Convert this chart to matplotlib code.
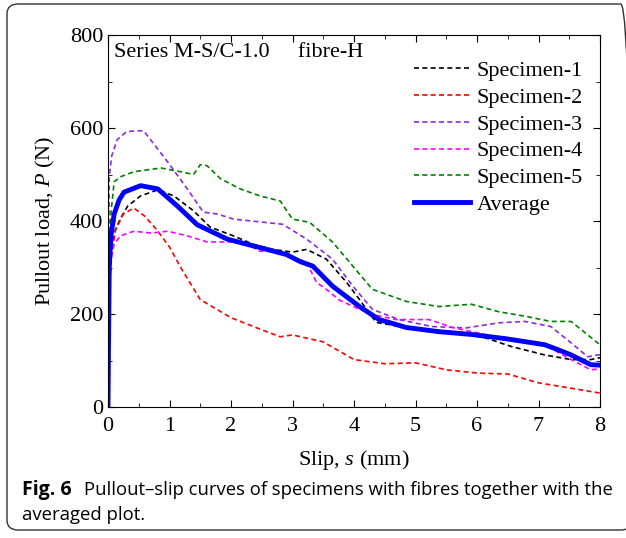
import numpy as np
import matplotlib.pyplot as plt
from matplotlib.patches import FancyBboxPatch
from matplotlib.ticker import MultipleLocator

# ---- data ----
s1 = [0, 0.02, 0.06, 0.12, 0.2, 0.32, 0.53, 0.81, 1.07, 1.39, 1.66, 2.04, 2.36, 2.68, 3.0,
      3.23, 3.55, 3.88, 4.09, 4.36, 4.85, 5.6, 6.13, 6.56, 7.1, 7.53, 7.85, 8.0]
p1 = [0, 280, 340, 380, 405, 432, 454, 467, 454, 422, 387, 368, 350, 339, 333,
      339, 318, 268, 231, 182, 171, 162, 149, 130, 112, 102, 102, 106]

s2 = [0, 0.02, 0.06, 0.12, 0.25, 0.42, 0.6, 0.8, 1.0, 1.2, 1.5, 2.0, 2.5, 2.8, 3.0,
      3.5, 4.0, 4.5, 5.0, 5.5, 6.0, 6.5, 7.0, 7.5, 8.0]
p2 = [0, 250, 330, 380, 415, 428, 410, 380, 344, 296, 231, 192, 166, 151, 155,
      140, 102, 93, 95, 80, 73, 71, 52, 41, 30]

s3 = [0, 0.02, 0.03, 0.06, 0.15, 0.3, 0.45, 0.58, 0.97, 1.29, 1.55, 1.78, 2.04, 2.84,
      3.23, 3.65, 3.98, 4.3, 4.73, 5.27, 5.82, 6.35, 6.78, 7.2, 7.53, 7.8, 7.96, 8.0]
p3 = [0, 495, 506, 540, 575, 592, 594, 594, 527, 469, 419, 415, 404, 393,
      361, 318, 260, 210, 188, 173, 170, 181, 184, 173, 138, 108, 112, 112]

s4 = [0, 0.02, 0.05, 0.1, 0.2, 0.42, 0.7, 0.97, 1.29, 1.61, 1.94, 2.2, 2.47, 2.74, 3.23,
      3.39, 3.55, 3.76, 4.09, 4.3, 4.68, 5.22, 5.6, 6.13, 6.67, 7.1, 7.53, 7.85, 8.0]
p4 = [0, 240, 320, 350, 368, 378, 374, 378, 368, 355, 355, 355, 335, 335, 311,
      268, 253, 230, 210, 199, 188, 188, 171, 156, 141, 134, 102, 80, 82]

s5 = [0, 0.02, 0.05, 0.1, 0.2, 0.42, 0.86, 1.18, 1.39, 1.5, 1.61, 1.83, 2.15, 2.47, 2.8,
      3.0, 3.28, 3.65, 3.98, 4.3, 4.85, 5.38, 5.91, 6.35, 6.79, 7.2, 7.53, 7.96, 8.0]
p5 = [0, 330, 420, 484, 495, 506, 514, 506, 500, 521, 519, 491, 469, 454, 443,
      404, 397, 355, 303, 253, 227, 216, 221, 205, 195, 184, 184, 138, 135]

s_avg = [0, 0.02, 0.05, 0.1, 0.18, 0.26, 0.53, 0.81, 1.13, 1.45, 1.94, 2.26, 2.58, 2.9,
         3.12, 3.33, 3.65, 4.09, 4.41, 4.85, 5.38, 5.91, 6.46, 7.1, 7.32, 7.53, 7.85, 8.0]
p_avg = [0, 300, 370, 415, 445, 462, 476, 469, 432, 392, 361, 350, 339, 328,
         313, 303, 260, 216, 188, 171, 162, 156, 147, 134, 123, 112, 91, 90]

specimens = [(s1, p1, 'black', 'Specimen-1'),
             (s2, p2, 'red', 'Specimen-2'),
             (s3, p3, '#8a2be2', 'Specimen-3'),
             (s4, p4, 'magenta', 'Specimen-4'),
             (s5, p5, 'green', 'Specimen-5')]

plt.rcParams['font.family'] = 'Liberation Serif'
plt.rcParams['mathtext.fontset'] = 'custom'
plt.rcParams['mathtext.it'] = 'Liberation Serif:italic'
plt.rcParams['mathtext.rm'] = 'Liberation Serif'

FS = 16

fig = plt.figure(figsize=(6.26, 5.38), dpi=100)
W, H = 626, 538
ax = fig.add_axes([108 / W, 1 - 407 / H, (600 - 108) / W, (407 - 35) / H])

for s, p, c, lab in specimens:
    ax.plot(s, p, color=c, linestyle=(0, (3, 2)), linewidth=1.2, label=lab)
ax.plot(s_avg, p_avg, color='blue', linewidth=3.5, label='Average')

ax.set_xlim(0, 8)
ax.set_ylim(0, 800)
ax.xaxis.set_major_locator(MultipleLocator(1))
ax.xaxis.set_minor_locator(MultipleLocator(0.5))
ax.yaxis.set_major_locator(MultipleLocator(200))
ax.yaxis.set_minor_locator(MultipleLocator(100))
ax.tick_params(which='both', direction='in', top=True, right=True, labelsize=FS)
ax.tick_params(which='major', length=5)
ax.tick_params(which='minor', length=3)
ax.tick_params(axis='x', pad=7)
ax.set_xlabel('Slip, $s$ (mm)', fontsize=FS, labelpad=9)
ax.set_ylabel('Pullout load, $P$ (N)', fontsize=FS, labelpad=9)

ax.text(0.013, 0.978, 'Series M-S/C-1.0     fibre-H', transform=ax.transAxes,
        fontsize=FS, va='top', ha='left')
ax.legend(loc='upper right', bbox_to_anchor=(0.992, 0.967), frameon=False, fontsize=FS,
          handlelength=2.5, handletextpad=0.3, labelspacing=0.28, borderaxespad=0.2)

# frame around the figure and caption
frame = FancyBboxPatch((7 / W, 8 / H), (632 - 7) / W, (534 - 8) / H,
                       boxstyle='round,pad=0,rounding_size=0.018',
                       transform=fig.transFigure, fill=False, edgecolor='#333333',
                       linewidth=1.0, clip_on=False)
fig.patches.append(frame)

cap_font = ['Open Sans', 'DejaVu Sans']
CFS = 13.3
fig.text(22 / W, 1 - 490 / H, 'Fig. 6', family=cap_font, fontweight='bold',
         fontsize=14, va='center', ha='left')
fig.text(84 / W, 1 - 490 / H, 'Pullout–slip curves of specimens with fibres together with the',
         family=cap_font, fontsize=CFS, va='center', ha='left')
fig.text(22 / W, 1 - 515 / H, 'averaged plot.', family=cap_font, fontsize=CFS,
         va='center', ha='left')

plt.savefig('out.png', dpi=100)
